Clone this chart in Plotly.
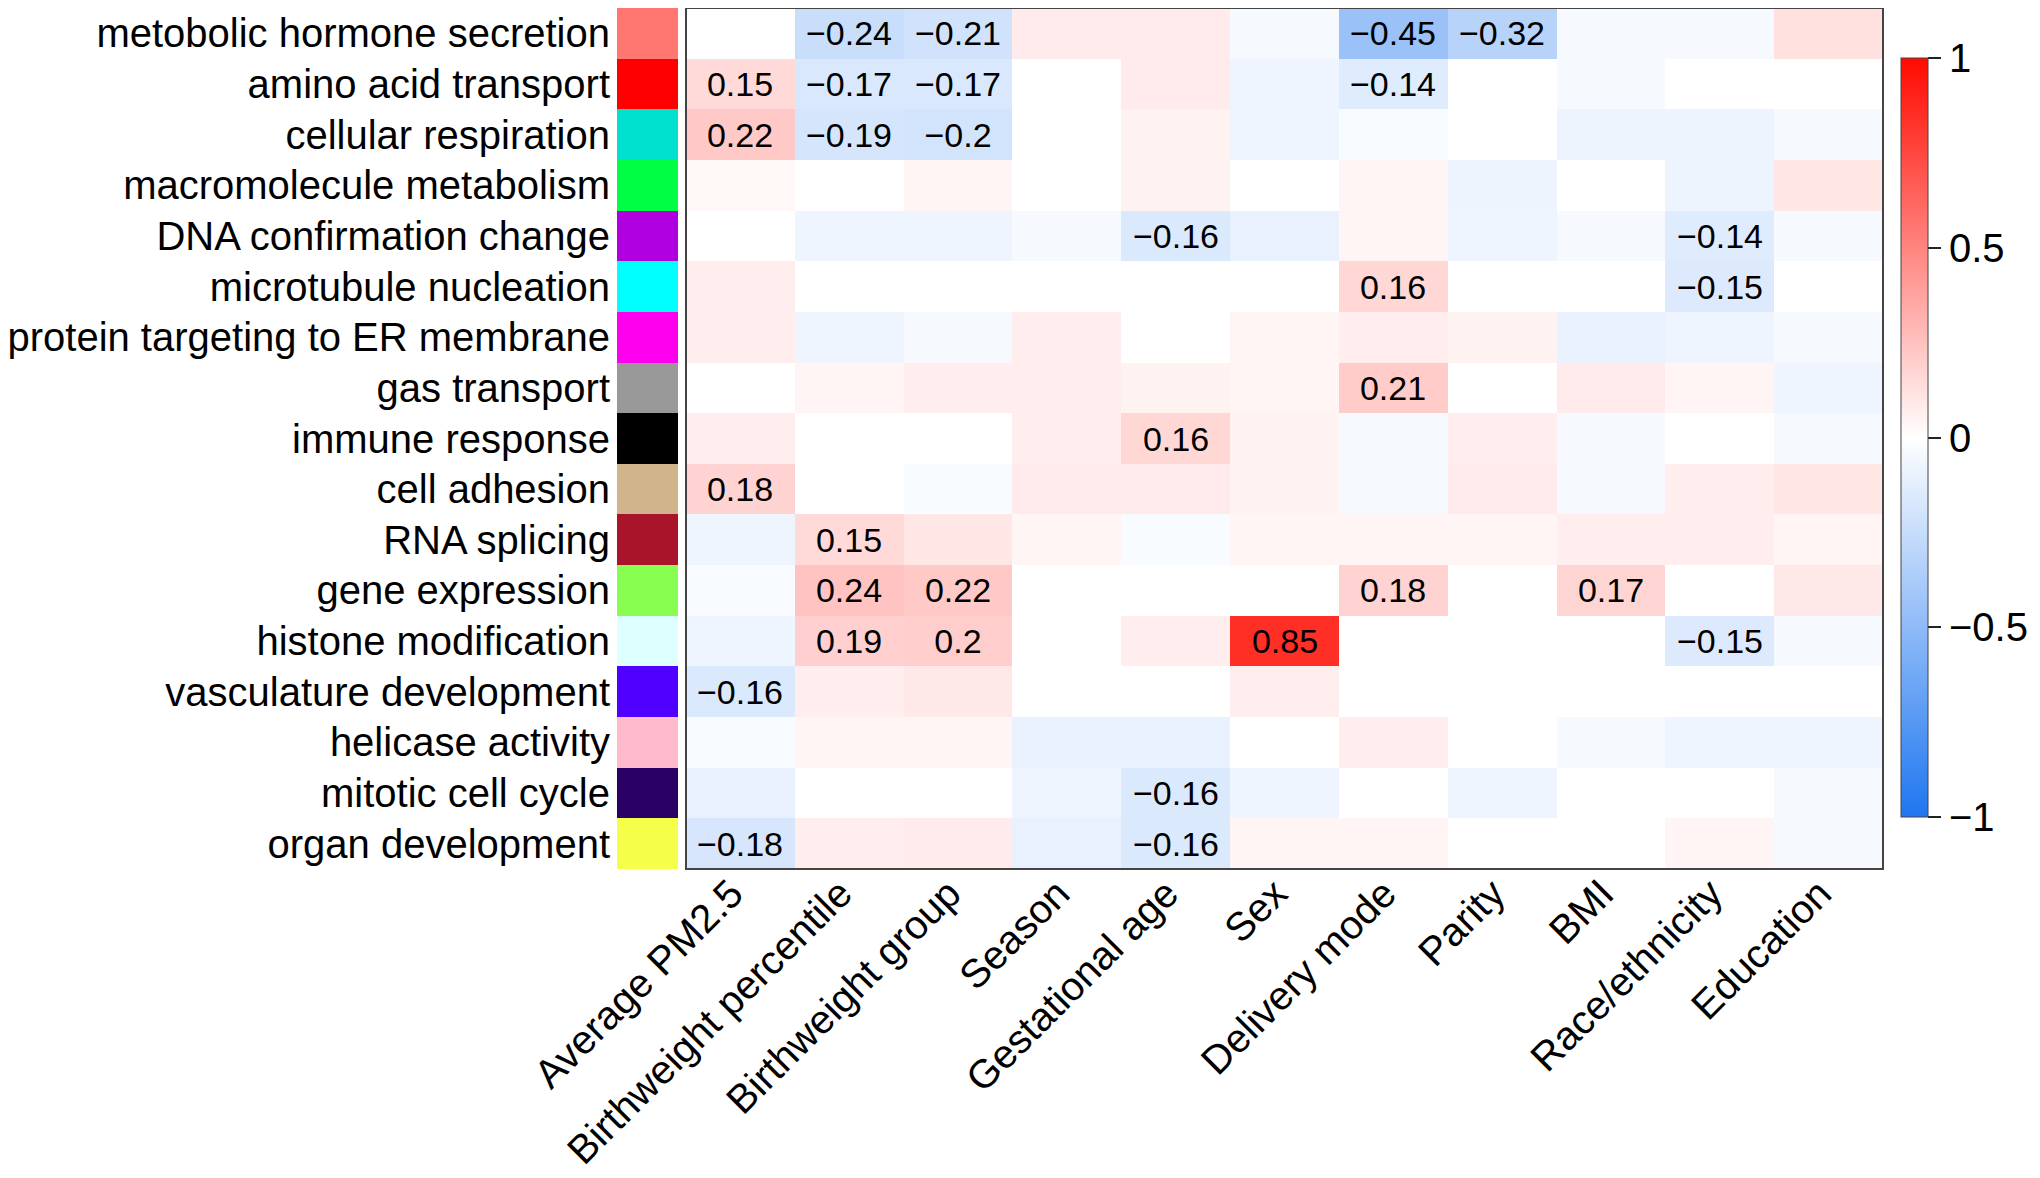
import plotly.graph_objects as go

# The page body has an 8 px margin, so the figure starts at (8, 8) on screen.
OFF = 8
W, H = 2040 - OFF, 1178 - OFF


def fx(sx):
    return (sx - OFF) / W


def fy(sy):
    return min(1.0, 1 - (sy - OFF) / H)


rows = [
    "metobolic hormone secretion", "amino acid transport", "cellular respiration",
    "macromolecule metabolism", "DNA confirmation change", "microtubule nucleation",
    "protein targeting to ER membrane", "gas transport", "immune response",
    "cell adhesion", "RNA splicing", "gene expression", "histone modification",
    "vasculature development", "helicase activity", "mitotic cell cycle",
    "organ development",
]
row_colors = [
    "#FF7770", "#FF0000", "#00E0CF", "#00FF44", "#B000E0", "#00FFFF",
    "#FF00EE", "#999999", "#000000", "#D2B48C", "#A8152A", "#88FF50",
    "#DDFFFF", "#5000FF", "#FFBBCC", "#2A0066", "#F5FF4A",
]
columns = [
    "Average PM2.5", "Birthweight percentile", "Birthweight group", "Season",
    "Gestational age", "Sex", "Delivery mode", "Parity", "BMI",
    "Race/ethnicity", "Education",
]

# correlation values (rows x columns)
r_metobolic   = [0.00, -0.24, -0.21, 0.08, 0.08, -0.04, -0.45, -0.32, -0.04, -0.04, 0.12]
r_amino       = [0.15, -0.17, -0.17, 0.00, 0.08, -0.07, -0.14, 0.00, -0.04, 0.00, 0.00]
r_cellresp    = [0.22, -0.19, -0.20, 0.00, 0.05, -0.07, -0.03, 0.00, -0.08, -0.08, -0.04]
r_macromol    = [0.03, 0.00, 0.04, 0.00, 0.05, 0.00, 0.04, -0.08, 0.00, -0.08, 0.10]
r_dna         = [0.00, -0.07, -0.07, -0.04, -0.16, -0.10, 0.04, -0.07, -0.04, -0.14, -0.04]
r_microtub    = [0.07, 0.00, 0.00, 0.00, 0.00, 0.00, 0.16, 0.00, 0.00, -0.15, 0.00]
r_protein     = [0.07, -0.07, -0.04, 0.07, 0.00, 0.04, 0.07, 0.05, -0.10, -0.07, -0.04]
r_gas         = [0.00, 0.04, 0.07, 0.07, 0.05, 0.04, 0.21, 0.00, 0.08, 0.04, -0.07]
r_immune      = [0.07, 0.00, 0.00, 0.07, 0.16, 0.05, -0.04, 0.07, -0.04, 0.00, -0.04]
r_adhesion    = [0.18, 0.00, -0.03, 0.08, 0.08, 0.05, -0.04, 0.08, -0.04, 0.07, 0.10]
r_rna         = [-0.07, 0.15, 0.10, 0.04, -0.03, 0.04, 0.04, 0.04, 0.07, 0.07, 0.04]
r_gene        = [-0.03, 0.24, 0.22, 0.00, 0.00, 0.00, 0.18, 0.00, 0.17, 0.00, 0.09]
r_histone     = [-0.07, 0.19, 0.20, 0.00, 0.07, 0.85, 0.00, 0.00, 0.00, -0.15, -0.04]
r_vasc        = [-0.16, 0.07, 0.09, 0.00, 0.00, 0.07, 0.00, 0.00, 0.00, 0.00, 0.00]
r_helicase    = [-0.03, 0.04, 0.04, -0.10, -0.10, 0.00, 0.07, 0.00, -0.04, -0.07, -0.07]
r_mitotic     = [-0.10, 0.00, 0.00, -0.07, -0.16, -0.07, 0.00, -0.07, 0.00, 0.00, -0.04]
r_organ       = [-0.18, 0.07, 0.08, -0.10, -0.16, 0.04, 0.04, 0.00, 0.00, 0.04, -0.04]

z = [r_metobolic, r_amino, r_cellresp, r_macromol, r_dna, r_microtub, r_protein,
     r_gas, r_immune, r_adhesion, r_rna, r_gene, r_histone, r_vasc, r_helicase,
     r_mitotic, r_organ]

LABEL_MIN = 0.14


def fmt(v):
    if abs(v) < LABEL_MIN:
        return ""
    s = f"{v:g}"
    return s.replace("-", "\u2212")


text = [[fmt(v) for v in row] for row in z]

FONT = "Liberation Sans, Arial, sans-serif"

cb_top, cb_bot = 58, 817
heat = go.Heatmap(
    z=z, x=columns, y=rows, text=text, texttemplate="%{text}",
    textfont=dict(family=FONT, size=34, color="black"),
    colorscale=[[0.0, "rgb(30,118,240)"], [0.5, "rgb(255,255,255)"], [1.0, "rgb(255,10,0)"]],
    zmin=-1, zmax=1, xaxis="x", yaxis="y",
    colorbar=dict(
        x=fx(1901), xanchor="left", xpad=0, ypad=0,
        y=fy((cb_top + cb_bot) / 2), yanchor="middle", len=(cb_bot - cb_top) / H,
        lenmode="fraction",
        thickness=27, outlinewidth=1, outlinecolor="#444",
        tickvals=[-1, -0.5, 0, 0.5, 1], ticktext=["\u22121", "\u22120.5", "0", "0.5", "1"],
        ticks="outside", ticklen=13, tickwidth=2, tickcolor="#222",
        tickfont=dict(family=FONT, size=40, color="black"),
    ),
    hoverongaps=False,
)

strip = go.Bar(
    x=[1] * len(rows), y=rows, orientation="h", marker=dict(color=row_colors, line=dict(width=0)),
    width=1, xaxis="x2", yaxis="y", showlegend=False, hoverinfo="skip",
)

fig = go.Figure([strip, heat])

fig.update_layout(
    width=W, height=H, margin=dict(l=0, r=0, t=0, b=0, autoexpand=False),
    paper_bgcolor="white", plot_bgcolor="white",
    font=dict(family=FONT, size=40, color="black"),
    showlegend=False,
    bargap=0,
    xaxis=dict(
        domain=[fx(686), fx(1883)], anchor="y", tickangle=-45, automargin=False,
        tickfont=dict(family=FONT, size=40, color="black"),
        showgrid=False, zeroline=False, ticks="", ticklabelstandoff=-8, ticklabelshift=-9,
    ),
    xaxis2=dict(
        domain=[fx(617), fx(678)], anchor="y", range=[0, 1], visible=False,
        showgrid=False, zeroline=False, automargin=False,
    ),
    yaxis=dict(
        domain=[fy(869), fy(6)], anchor="x2", autorange="reversed", automargin=False,
        tickfont=dict(family=FONT, size=40, color="black"),
        showgrid=False, zeroline=False, ticks="", ticklabelstandoff=6,
    ),
    shapes=[dict(
        type="rect", xref="x domain", yref="y domain", x0=0, x1=1, y0=0, y1=1,
        line=dict(color="#444", width=2), fillcolor="rgba(0,0,0,0)", layer="above",
    )],
)

fig.write_html("out.html")
